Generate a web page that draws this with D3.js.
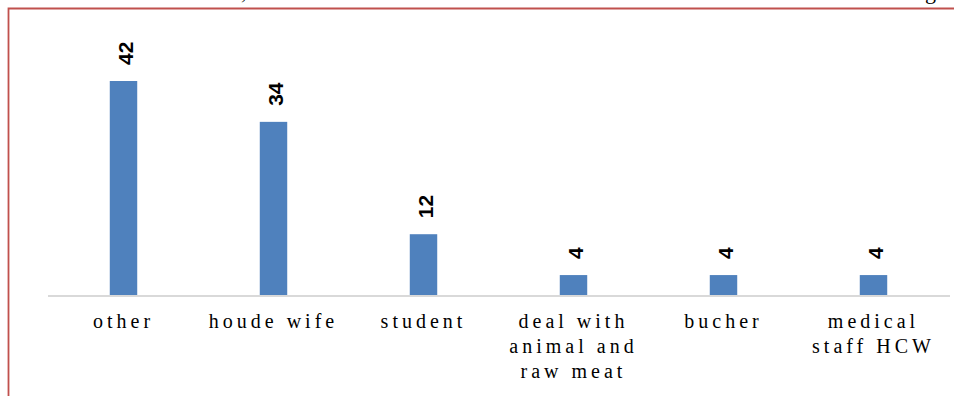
<!DOCTYPE html>
<html>
<head>
<meta charset="utf-8">
<script src="https://cdn.jsdelivr.net/npm/d3@7/dist/d3.min.js"></script>
<style>
  html, body { margin: 0; padding: 0; background: #fff; overflow: hidden; }
  svg { display: block; }
</style>
</head>
<body>
<svg id="chart" width="954" height="396"></svg>
<script>
// Occupation categories (label lines) and patient counts
const categories = ["other", "houde wife", "student", "deal with animal and raw meat", "bucher", "medical staff HCW"];
const categoryLines = [["other"], ["houde wife"], ["student"], ["deal with", "animal and", "raw meat"], ["bucher"], ["medical", "staff HCW"]];
const counts = [42, 34, 12, 4, 4, 4];

const svg = d3.select("#chart");

// Fragments of the surrounding page text and the frame around the figure
svg.append("text").attr("x", 241).attr("y", -1)
  .attr("font-family", "Liberation Serif, serif").attr("font-size", 22).attr("fill", "#000").text(",");
svg.append("text").attr("x", 925).attr("y", -1)
  .attr("font-family", "Liberation Serif, serif").attr("font-size", 22).attr("fill", "#000").text("g");

svg.append("path")
  .attr("d", "M8.5,400 L8.5,8.5 L960,8.5")
  .attr("fill", "none")
  .attr("stroke", "#c0504d")
  .attr("stroke-width", 1.8);

const x = d3.scaleBand()
  .domain(categories)
  .range([48.5, 948.5])
  .paddingInner(0.817)
  .paddingOuter(0.4085);

const y = d3.scaleLinear()
  .domain([0, 42])
  .range([295.5, 81]);

// Bars
svg.append("g").selectAll("rect")
  .data(counts)
  .join("rect")
  .attr("x", (d, i) => x(categories[i]))
  .attr("y", d => y(d))
  .attr("width", x.bandwidth())
  .attr("height", d => y(0) - y(d))
  .attr("fill", "#4f81bd");

// Category axis line
svg.append("line")
  .attr("x1", 48).attr("x2", 950)
  .attr("y1", 296).attr("y2", 296)
  .attr("stroke", "#d9d9d9")
  .attr("stroke-width", 1.8);

// Value labels, rotated
svg.append("g").selectAll("text")
  .data(counts)
  .join("text")
  .attr("transform", (d, i) => {
    const cx = x(categories[i]) + x.bandwidth() / 2 + 1.5;
    return `translate(${cx},${y(d) - 16}) rotate(-90)`;
  })
  .attr("dy", "0.36em")
  .attr("text-anchor", "start")
  .attr("font-family", "Liberation Sans, Arial, sans-serif")
  .attr("font-weight", "bold")
  .attr("font-size", 21)
  .attr("fill", "#000")
  .text(d => d);

// Category labels, wrapped with wide letter spacing
const labels = svg.append("g").selectAll("text")
  .data(categoryLines)
  .join("text")
  .attr("text-anchor", "middle")
  .attr("font-family", "Liberation Serif, Times New Roman, serif")
  .attr("font-size", 20)
  .attr("letter-spacing", 4)
  .attr("fill", "#000");

labels.each(function(lines, i) {
  const cx = x(categories[i]) + x.bandwidth() / 2;
  d3.select(this).selectAll("tspan")
    .data(lines)
    .join("tspan")
    .attr("x", cx)
    .attr("y", (d, j) => 328 + j * 25)
    .text(d => d);
});
</script>
</body>
</html>
